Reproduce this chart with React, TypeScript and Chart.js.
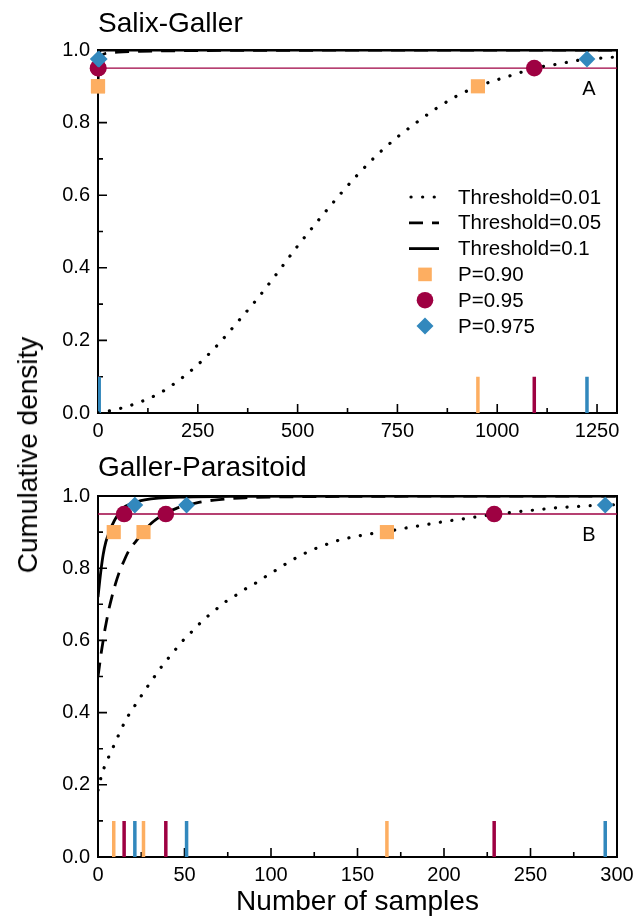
import React, { useEffect, useRef } from "react";
import { Chart, registerables } from "chart.js";

Chart.register(...registerables);

const FONT = '"Liberation Sans", Arial, Helvetica, sans-serif';
const ORANGE = "#FDAE61";
const CRIMSON = "#9E0142";
const BLUE = "#3288BD";

const TITLES = ["Salix-Galler", "Galler-Parasitoid"];
const PANEL_LABELS = ["A", "B"];
const Y_TITLE = "Cumulative density";
const X_TITLE = "Number of samples";
const LEGEND_LABELS = ["Threshold=0.01", "Threshold=0.05", "Threshold=0.1", "P=0.90", "P=0.95", "P=0.975"];
const P_LEVELS = [0.9, 0.95, 0.975];
const REF_LEVEL = 0.95;
const RUG_HEIGHT = 0.1;

const Y_MAJOR = [0, 0.2, 0.4, 0.6, 0.8, 1.0];
const Y_MINOR = [0.1, 0.3, 0.5, 0.7, 0.9];

// ---------- Panel A : Salix-Galler ----------
const A_X_MAX = 1300;
const A_X_MAJOR = [0, 250, 500, 750, 1000, 1250];
const A_X_MINOR = [125, 375, 625, 875, 1125];
const A_T001_X = [0, 50, 100, 150, 200, 250, 300, 350, 400, 450, 500, 550, 600, 650, 700, 750, 800, 850, 900, 951.6, 1000, 1050, 1092.8, 1150, 1224.8, 1265, 1300];
const A_T001_Y = [0, 0.011, 0.028, 0.052, 0.088, 0.133, 0.188, 0.251, 0.316, 0.387, 0.46, 0.528, 0.594, 0.656, 0.712, 0.76, 0.802, 0.841, 0.874, 0.9, 0.918, 0.935, 0.95, 0.961, 0.975, 0.978, 0.981];
const A_T005_X = [0, 1, 3, 10, 20, 50, 100, 200, 400, 1300];
const A_T005_Y = [0.9, 0.95, 0.975, 0.986, 0.991, 0.994, 0.996, 0.998, 0.999, 1.0];
const A_T01_X = [0, 0.5, 2, 5, 10, 1300];
const A_T01_Y = [0.95, 0.975, 0.99, 0.998, 1.0, 1.0];
// sample numbers at which P=0.90 / 0.95 / 0.975 is reached, per threshold
const A_Q_T001 = [951.6, 1092.8, 1224.8];
const A_Q_T005 = [0, 1, 3];
const A_Q_T01 = [0, 0, 0.5];

// ---------- Panel B : Galler-Parasitoid ----------
const B_X_MAX = 300;
const B_X_MAJOR = [0, 50, 100, 150, 200, 250, 300];
const B_X_MINOR = [25, 75, 125, 175, 225, 275];
const B_T001_X = [0, 2, 5, 7.5, 10, 13, 16, 20, 23.5, 27, 31, 35, 39.5, 44, 48, 53, 58, 63, 68.5, 74, 80, 86, 92.6, 98.5, 104.7, 110.6, 117, 123.4, 130, 136, 143, 150, 160, 167, 180, 190, 200, 210, 220, 229, 240, 250, 260, 270, 280, 293.2, 300];
const B_T001_Y = [0.185, 0.225, 0.265, 0.29, 0.318, 0.349, 0.379, 0.41, 0.435, 0.461, 0.488, 0.516, 0.544, 0.57, 0.594, 0.618, 0.643, 0.665, 0.687, 0.708, 0.726, 0.745, 0.763, 0.782, 0.8, 0.818, 0.835, 0.85, 0.862, 0.873, 0.882, 0.889, 0.897, 0.902, 0.913, 0.921, 0.929, 0.936, 0.943, 0.949, 0.955, 0.96, 0.965, 0.969, 0.972, 0.975, 0.976];
const B_T005_X = [0, 1, 2, 3, 4, 5, 6, 8, 10, 12, 15, 18, 22, 26, 31, 35, 39, 45, 52, 60, 70, 85, 100, 150, 300];
const B_T005_Y = [0.5, 0.535, 0.57, 0.6, 0.63, 0.655, 0.68, 0.72, 0.755, 0.785, 0.82, 0.85, 0.875, 0.9, 0.925, 0.94, 0.952, 0.965, 0.975, 0.984, 0.99, 0.995, 0.997, 0.999, 1.0];
const B_T01_X = [0, 1, 2, 3, 4.5, 6.5, 9.5, 14.5, 20, 27, 35, 50, 80, 150, 300];
const B_T01_Y = [0.72, 0.765, 0.805, 0.838, 0.872, 0.9, 0.932, 0.966, 0.98, 0.989, 0.994, 0.997, 0.999, 1.0, 1.0];
const B_Q_T001 = [167, 229, 293.2];
const B_Q_T005 = [26.3, 39.2, 51.2];
const B_Q_T01 = [9.1, 15.1, 21.3];

const LINE_STYLES = [
  { dash: [0.1, 11.5], width: 3.2, cap: "round" },
  { dash: [14, 9], width: 2.8, cap: "butt" },
  { dash: [] as number[], width: 2.8, cap: "butt" },
];
const P_COLORS = [ORANGE, CRIMSON, BLUE];
const P_STYLES = ["rect", "circle", "rectRot"];
const P_RADII = [10, 8.3, 8.4];

type Panel = {
  xMax: number;
  xMajor: number[];
  xMinor: number[];
  curves: { x: number[]; y: number[] }[];
  q: number[][];
  label: string;
};

const PANELS: Panel[] = [
  {
    xMax: A_X_MAX, xMajor: A_X_MAJOR, xMinor: A_X_MINOR,
    curves: [{ x: A_T001_X, y: A_T001_Y }, { x: A_T005_X, y: A_T005_Y }, { x: A_T01_X, y: A_T01_Y }],
    q: [A_Q_T001, A_Q_T005, A_Q_T01], label: PANEL_LABELS[0],
  },
  {
    xMax: B_X_MAX, xMajor: B_X_MAJOR, xMinor: B_X_MINOR,
    curves: [{ x: B_T001_X, y: B_T001_Y }, { x: B_T005_X, y: B_T005_Y }, { x: B_T01_X, y: B_T01_Y }],
    q: [B_Q_T001, B_Q_T005, B_Q_T01], label: PANEL_LABELS[1],
  },
];

function buildDatasets(p: Panel) {
  const ds: any[] = [];
  // markers (diamond on top)
  [2, 1, 0].forEach((i) => {
    ds.push({
      label: LEGEND_LABELS[3 + i],
      data: p.q.map((q) => ({ x: q[i], y: P_LEVELS[i] })),
      showLine: false,
      pointStyle: P_STYLES[i],
      pointRadius: P_RADII[i],
      pointBackgroundColor: P_COLORS[i],
      pointBorderWidth: 0,
      pointBorderColor: P_COLORS[i],
      clip: false,
      order: 0,
    });
  });
  // curves
  p.curves.forEach((c, k) => {
    const st = LINE_STYLES[k];
    ds.push({
      label: LEGEND_LABELS[k],
      data: c.x.map((x, j) => ({ x, y: c.y[j] })),
      borderColor: "#000",
      borderWidth: st.width,
      borderDash: st.dash,
      borderCapStyle: st.cap,
      pointRadius: 0,
      cubicInterpolationMode: "monotone",
      fill: false,
      order: 1,
    });
  });
  // reference line at P = 0.95
  ds.push({
    label: "ref",
    data: [{ x: 0, y: REF_LEVEL }, { x: p.xMax, y: REF_LEVEL }],
    borderColor: CRIMSON,
    borderWidth: 1.4,
    pointRadius: 0,
    order: 2,
  });
  // rug marks (blue on top)
  [2, 1, 0].forEach((i) => {
    const pts: any[] = [];
    p.q.forEach((q) => {
      pts.push({ x: q[i], y: 0 }, { x: q[i], y: RUG_HEIGHT }, { x: q[i], y: null });
    });
    ds.push({
      label: "rug" + i,
      data: pts,
      borderColor: P_COLORS[i],
      borderWidth: 3.5,
      borderCapStyle: "butt",
      pointRadius: 0,
      spanGaps: false,
      order: 3,
    });
  });
  return ds;
}

function framePlugin(p: Panel) {
  return {
    id: "frameTicks",
    beforeDatasetsDraw(chart: any) {
      const { ctx, chartArea } = chart;
      const { left, right, top, bottom } = chartArea;
      const xs = chart.scales.x;
      const ys = chart.scales.y;
      ctx.save();
      ctx.strokeStyle = "#000";
      ctx.lineWidth = 1.6;
      ctx.beginPath();
      p.xMajor.forEach((v) => { const px = xs.getPixelForValue(v); ctx.moveTo(px, bottom); ctx.lineTo(px, bottom - 9); });
      p.xMinor.forEach((v) => { const px = xs.getPixelForValue(v); ctx.moveTo(px, bottom); ctx.lineTo(px, bottom - 5); });
      Y_MAJOR.forEach((v) => { const py = ys.getPixelForValue(v); ctx.moveTo(left, py); ctx.lineTo(left + 9, py); });
      Y_MINOR.forEach((v) => { const py = ys.getPixelForValue(v); ctx.moveTo(left, py); ctx.lineTo(left + 5, py); });
      ctx.stroke();
      ctx.lineWidth = 2;
      ctx.strokeRect(left, top, right - left, bottom - top);
      ctx.restore();
    },
    afterDraw(chart: any) {
      const { ctx, chartArea } = chart;
      const ys = chart.scales.y;
      ctx.save();
      ctx.fillStyle = "#000";
      ctx.font = `20px ${FONT}`;
      ctx.textAlign = "center";
      ctx.textBaseline = "middle";
      ctx.fillText(p.label, chartArea.left + 0.946 * (chartArea.right - chartArea.left), ys.getPixelForValue(0.89));
      ctx.restore();
    },
  };
}

const legendPlugin = {
  id: "insideLegend",
  afterDraw(chart: any) {
    const { ctx, chartArea } = chart;
    const x0 = chartArea.left + 311;
    const x1 = x0 + 30;
    const xm = x0 + 16;
    const xt = chartArea.left + 360;
    const y0 = chartArea.top + 147;
    const dy = 25.8;
    ctx.save();
    LEGEND_LABELS.forEach((lab, i) => {
      const y = y0 + i * dy;
      if (i < 3) {
        const st = LINE_STYLES[i];
        ctx.strokeStyle = "#000";
        ctx.lineWidth = st.width;
        ctx.lineCap = st.cap;
        ctx.setLineDash(st.dash);
        ctx.beginPath();
        ctx.moveTo(i === 0 ? x0 + 2 : x0, y);
        ctx.lineTo(x1, y);
        ctx.stroke();
        ctx.setLineDash([]);
      } else {
        const k = i - 3;
        ctx.fillStyle = P_COLORS[k];
        ctx.beginPath();
        if (k === 0) {
          ctx.rect(xm - 6.8, y - 6.8, 13.6, 13.6);
        } else if (k === 1) {
          ctx.arc(xm, y, 8.3, 0, Math.PI * 2);
        } else {
          ctx.moveTo(xm, y - 8.5);
          ctx.lineTo(xm + 8.5, y);
          ctx.lineTo(xm, y + 8.5);
          ctx.lineTo(xm - 8.5, y);
          ctx.closePath();
        }
        ctx.fill();
      }
      ctx.fillStyle = "#000";
      ctx.font = `20.5px ${FONT}`;
      ctx.textAlign = "left";
      ctx.textBaseline = "middle";
      ctx.fillText(lab, xt, y + 1);
    });
    ctx.restore();
  },
};

function PanelChart(props: { idx: number; top: number; height: number; padTop: number; xHeight: number }) {
  const ref = useRef<HTMLCanvasElement>(null);
  useEffect(() => {
    const p = PANELS[props.idx];
    const isBottom = props.idx === 1;
    const plugins: any[] = [framePlugin(p)];
    if (!isBottom) plugins.push(legendPlugin);
    const chart = new Chart(ref.current!, {
      type: "line",
      data: { datasets: buildDatasets(p) },
      options: {
        responsive: false,
        animation: false,
        events: [],
        layout: { padding: { top: props.padTop, right: 19, left: 0, bottom: 0 } },
        plugins: { legend: { display: false }, tooltip: { enabled: false }, title: { display: false } },
        scales: {
          x: {
            type: "linear",
            min: 0,
            max: p.xMax,
            grid: { display: false, drawTicks: false },
            border: { display: false },
            ticks: {
              font: { family: FONT, size: 20 },
              color: "#000",
              padding: 6,
              maxRotation: 0,
              autoSkip: false,
              callback: (v: any) => String(v),
            },
            afterBuildTicks: (s: any) => { s.ticks = p.xMajor.map((v) => ({ value: v })); },
            afterFit: (s: any) => {
              s.height = props.xHeight;
              s.paddingLeft = 0;
              s.paddingRight = 0;
            },
            title: {
              display: isBottom,
              text: X_TITLE,
              color: "#000",
              font: { family: FONT, size: 28 },
              padding: { top: 0, bottom: 0 },
            },
          },
          y: {
            type: "linear",
            min: 0,
            max: 1,
            grid: { display: false, drawTicks: false },
            border: { display: false },
            ticks: {
              font: { family: FONT, size: 20 },
              color: "#000",
              padding: 8,
              callback: (v: any) => Number(v).toFixed(1),
            },
            afterBuildTicks: (s: any) => { s.ticks = Y_MAJOR.map((v) => ({ value: v })); },
            afterFit: (s: any) => {
              s.width = 98;
              s.paddingTop = 0;
              s.paddingBottom = 0;
            },
          },
        },
      } as any,
      plugins,
    });
    return () => chart.destroy();
  }, []);
  return (
    <canvas
      ref={ref}
      width={636}
      height={props.height}
      style={{ position: "absolute", left: 0, top: props.top, width: 636, height: props.height }}
    />
  );
}

const titleStyle: React.CSSProperties = {
  position: "absolute",
  left: 98,
  fontFamily: FONT,
  fontSize: 28,
  lineHeight: "28px",
  color: "#000",
  whiteSpace: "nowrap",
};

export default function App() {
  return (
    <div style={{ position: "absolute", left: 0, top: 0, width: 636, height: 919, background: "#fff", overflow: "hidden" }}>
      <PanelChart idx={0} top={0} height={445} padTop={50} xHeight={32} />
      <PanelChart idx={1} top={445} height={474} padTop={51} xHeight={62} />
      <div style={{ ...titleStyle, top: 9.3 }}>{TITLES[0]}</div>
      <div style={{ ...titleStyle, top: 453.3 }}>{TITLES[1]}</div>
      <div
        style={{
          position: "absolute",
          left: 28,
          top: 455,
          transform: "translate(-50%, -50%) rotate(-90deg)",
          fontFamily: FONT,
          fontSize: 28,
          lineHeight: "28px",
          color: "#000",
          whiteSpace: "nowrap",
        }}
      >
        {Y_TITLE}
      </div>
    </div>
  );
}
